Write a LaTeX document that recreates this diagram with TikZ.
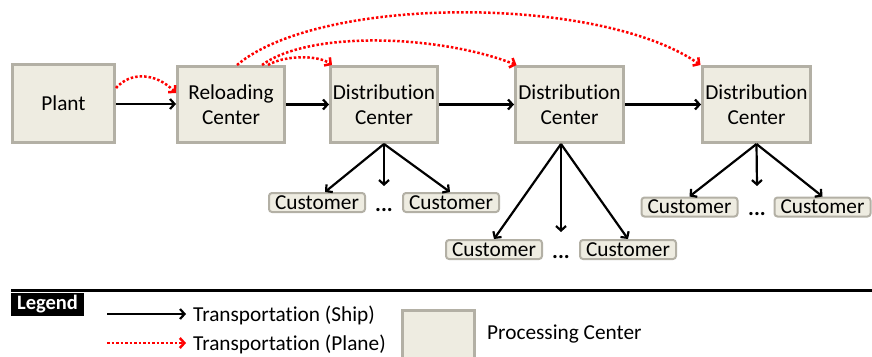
\documentclass[tikz,border=0pt]{standalone}
\usepackage{fontspec}
\setmainfont[Ligatures=NoCommon]{Carlito}
\usetikzlibrary{arrows.meta}
\definecolor{boxfill}{HTML}{EEECE1}
\definecolor{boxedge}{HTML}{B3B0A5}
\definecolor{planered}{HTML}{FF0000}
\tikzset{
  center/.style={draw=boxedge, fill=boxfill, line width=3pt, align=center,
    inner sep=0pt, font=\fontsize{21.3}{25}\selectfont},
  customer/.style={draw=boxedge, fill=boxfill, line width=2pt, rounded corners=3pt,
    minimum width=96pt, minimum height=19pt, inner sep=0pt,
    font=\fontsize{21.3}{24}\selectfont},
  dots/.style={anchor=base, inner sep=0pt, font=\fontsize{22}{24}\selectfont\bfseries},
  ship/.style={line width=2.2pt, -{Straight Barb[length=4.5pt,width=10pt]}},
  plane/.style={planered, line width=2.5pt, dash pattern=on 2.5pt off 2pt,
    -{Straight Barb[length=4.5pt,width=10pt]}},
  legtext/.style={anchor=west, inner sep=0pt, font=\fontsize{21.3}{24}\selectfont},
}
\begin{document}
\begin{tikzpicture}[x=1pt, y=-1pt]
\clip (0,0) rectangle (872,356);

% processing centers
\node[center, minimum width=102pt, minimum height=78pt] (plant) at (63.5,103.5) {Plant};
\node[center, minimum width=107pt, minimum height=76pt] (reload) at (231,104.5) {Reloading\\Center};
\node[center, minimum width=107pt, minimum height=76pt] (d1) at (384,104.5) {Distribution\\Center};
\node[center, minimum width=108pt, minimum height=76pt] (d2) at (569.5,104.5) {Distribution\\Center};
\node[center, minimum width=108pt, minimum height=76pt] (d3) at (756.5,104.5) {Distribution\\Center};

% customers
\node[customer] (c11) at (317,202.5) {Customer};
\node[customer] (c12) at (451,202.5) {Customer};
\node[dots] (k1) at (384,211) {...};
\node[customer] (c21) at (494,249.5) {Customer};
\node[customer] (c22) at (628,249.5) {Customer};
\node[dots] (k2) at (561,258) {...};
\node[customer] (c31) at (689.5,207) {Customer};
\node[customer] (c32) at (822.5,207) {Customer};
\node[dots] (k3) at (757,215) {...};

\coordinate (m1) at (384,186);
\coordinate (m2) at (561,232);
\coordinate (m3) at (757,186);

% ship links
\draw[ship] (plant.east |- 0,104) -- (reload.west |- 0,104);
\draw[ship] (reload.east) -- (d1.west);
\draw[ship] (d1.east) -- (d2.west);
\draw[ship] (d2.east) -- (d3.west);

% deliveries to customers
\draw[ship] (d1.south) -- ([xshift=8pt]c11.north);
\draw[ship] (d1.south) -- (m1);
\draw[ship] (d1.south) -- ([xshift=-1pt]c12.north);
\draw[ship] ([xshift=-8.5pt]d2.south) -- (c21.north);
\draw[ship] ([xshift=-8.5pt]d2.south) -- (m2);
\draw[ship] ([xshift=-8.5pt]d2.south) -- (c22.north);
\draw[ship] (d3.south) -- (c31.north);
\draw[ship] (d3.south) -- (m3);
\draw[ship] (d3.south) -- (c32.north);

% plane links
\draw[plane] ([yshift=15.5pt]plant.east) .. controls (130,72) and (155,72) .. ([yshift=11.5pt]reload.west);
\draw[plane] ([xshift=37pt]reload.north) .. controls (285,55) and (318,55) .. ([xshift=-52pt]d1.north);
\draw[plane] ([xshift=31pt]reload.north) .. controls (310,30) and (440,35) .. ([xshift=-53pt]d2.north);
\draw[plane] ([xshift=6pt]reload.north) .. controls (320,-5) and (600,-5) .. ([xshift=-56pt]d3.north);

% legend
\coordinate (ls) at (11,290);
\coordinate (le) at (872,290);
\draw[line width=3pt] (ls) -- (le);
\node[fill=black, text=white, font=\fontsize{20.5}{24}\selectfont\bfseries,
  minimum width=73pt, minimum height=23pt, inner sep=0pt] (leg) at (47.5,304.5) {Legend};

\coordinate (s0) at (107,314);
\coordinate (s1) at (186,314);
\draw[ship] (s0) -- (s1);
\node[legtext] (shiptext) at (193,315) {Transportation (Ship)};

\coordinate (p0) at (107,343);
\coordinate (p1) at (186,343);
\draw[plane] (p0) -- (p1);
\node[legtext] (planetext) at (193,344) {Transportation (Plane)};

\node[center, minimum width=72pt, minimum height=56pt, anchor=north west] (proc) at (400.5,308.5) {};
\node[legtext] (proctext) at (487,334) {Processing Center};
\end{tikzpicture}
\end{document}
